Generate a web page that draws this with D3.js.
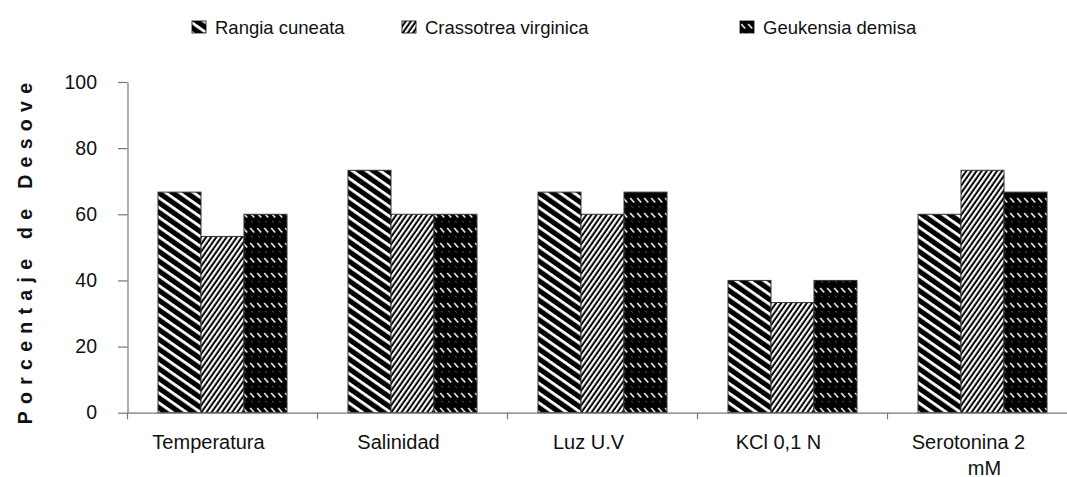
<!DOCTYPE html>
<html>
<head>
<meta charset="utf-8">
<script src="https://cdn.jsdelivr.net/npm/d3@7"></script>
<style>
  html, body { margin: 0; padding: 0; background: #fff; }
  svg { display: block; font-family: "Liberation Sans", Arial, sans-serif; }
</style>
</head>
<body>
<svg id="chart" width="1067" height="477"></svg>
<script>
// ---- data ----
const categories = ["Temperatura", "Salinidad", "Luz U.V", "KCl 0,1 N", "Serotonina 2 mM"];
const categoryLines = [["Temperatura"], ["Salinidad"], ["Luz U.V"], ["KCl 0,1 N"], ["Serotonina 2", "mM"]];
const seriesNames = ["Rangia cuneata", "Crassotrea virginica", "Geukensia demisa"];
const rangia = [66.7, 73.3, 66.7, 40, 60];
const crassostrea = [53.3, 60, 60, 33.3, 73.3];
const geukensia = [60, 60, 66.7, 40, 66.7];
const yTicks = [0, 20, 40, 60, 80, 100];
const yTitle = "Porcentaje de Desove";

const seriesValues = [rangia, crassostrea, geukensia];
const patternIds = ["patRangia", "patCrass", "patGeuk"];

const svg = d3.select("#chart");
const defs = svg.append("defs");

// Rangia: black with white "\" stripes
const p1 = defs.append("pattern").attr("id", "patRangia")
  .attr("patternUnits", "userSpaceOnUse").attr("width", 20).attr("height", 8)
  .attr("patternTransform", "rotate(35)");
p1.append("rect").attr("width", 20).attr("height", 8).attr("fill", "#000");
p1.append("rect").attr("y", 0).attr("width", 20).attr("height", 2.8).attr("fill", "#fff");

// Crassostrea: fine "/" stripes
const p2 = defs.append("pattern").attr("id", "patCrass")
  .attr("patternUnits", "userSpaceOnUse").attr("width", 20).attr("height", 4.2)
  .attr("patternTransform", "rotate(-55)");
p2.append("rect").attr("width", 20).attr("height", 4.2).attr("fill", "#000");
p2.append("rect").attr("y", 0).attr("width", 20).attr("height", 2.2).attr("fill", "#fff");

// Geukensia: black with rows of short white "\" dashes
const p3 = defs.append("pattern").attr("id", "patGeuk")
  .attr("patternUnits", "userSpaceOnUse").attr("width", 7).attr("height", 15)
  .attr("x", 0).attr("y", 0);
p3.append("rect").attr("width", 7).attr("height", 15).attr("fill", "#000");
p3.append("line").attr("x1", 1.2).attr("y1", 3).attr("x2", 5.2).attr("y2", 7.5)
  .attr("stroke", "#e0e0e0").attr("stroke-width", 1.8);
p3.append("line").attr("x1", 2).attr("y1", 11).attr("x2", 4).attr("y2", 12.5)
  .attr("stroke", "#555").attr("stroke-width", 1);

// ---- scales ----
const x0 = d3.scaleBand().domain(categories).range([127.5, 127.5 + 5 * 190]).paddingInner(0).paddingOuter(0);
const x1 = d3.scaleBand().domain(seriesNames).range([0, 129]);
const y = d3.scaleLinear().domain([0, 100]).range([412.7, 82]);

// ---- bars ----
const groups = svg.append("g").selectAll("g").data(categories).join("g")
  .attr("transform", d => `translate(${x0(d) + (x0.bandwidth() - 129) / 2},0)`);

groups.selectAll("rect")
  .data((c, ci) => seriesNames.map((s, si) => ({ s, si, v: seriesValues[si][ci] })))
  .join("rect")
  .attr("x", d => x1(d.s))
  .attr("y", d => y(d.v))
  .attr("width", x1.bandwidth())
  .attr("height", d => y(0) - y(d.v))
  .attr("fill", d => `url(#${patternIds[d.si]})`)
  .attr("stroke", "#333")
  .attr("stroke-width", 1);

// ---- y axis ----
const yAxis = d3.axisLeft(y).tickValues(yTicks).tickSize(9.5).tickPadding(21).tickSizeOuter(0);
const gy = svg.append("g").attr("transform", "translate(127.5,0)").call(yAxis);
gy.select(".domain").attr("stroke", "#777").attr("stroke-width", 1.2);
gy.selectAll(".tick line").attr("stroke", "#777").attr("stroke-width", 1.2);
gy.selectAll(".tick text").attr("font-size", 19.5).attr("fill", "#111")
  .attr("font-family", "'Liberation Sans', Arial, sans-serif");

// ---- x axis ----
const xAxis = d3.axisBottom(x0).tickSize(0).tickFormat("");
const gx = svg.append("g").attr("transform", `translate(0,${y(0)})`).call(xAxis);
gx.select(".domain").attr("stroke", "#777").attr("stroke-width", 1.2);
// boundary ticks
gx.selectAll(".bound").data(categories).join("line").attr("class", "bound")
  .attr("x1", d => x0(d)).attr("x2", d => x0(d))
  .attr("y1", 0).attr("y2", 6.5).attr("stroke", "#777").attr("stroke-width", 1.2);

// category labels
const lineOffsets = [-14, 2];
const lab = svg.append("g").selectAll("text").data(categories).join("text")
  .attr("font-size", 20).attr("fill", "#111").attr("text-anchor", "middle");
lab.each(function (d, i) {
  const cx = x0(d) + x0.bandwidth() / 2;
  categoryLines[i].forEach((ln, li) => {
    d3.select(this).append("tspan")
      .attr("x", cx + (categoryLines[i].length > 1 ? lineOffsets[li] : -14))
      .attr("y", 449 + li * 25.5)
      .text(ln);
  });
});

// ---- y title ----
svg.append("text")
  .attr("transform", "translate(32,250) rotate(-90)")
  .attr("text-anchor", "middle")
  .attr("font-size", 19.5).attr("font-weight", "bold")
  .attr("letter-spacing", 7.3)
  .attr("fill", "#111")
  .text(yTitle);

// ---- legend ----
const legendX = [192, 402, 740];
const leg = svg.append("g").selectAll("g").data(seriesNames).join("g")
  .attr("transform", (d, i) => `translate(${legendX[i]},21)`);
leg.append("rect").attr("width", 14).attr("height", 12)
  .attr("fill", (d, i) => `url(#${patternIds[i]})`).attr("stroke", "#000").attr("stroke-width", 0.8);
leg.append("text").attr("x", 23).attr("y", 12.5).attr("font-size", 18.5).attr("fill", "#111").text(d => d);
</script>
</body>
</html>
